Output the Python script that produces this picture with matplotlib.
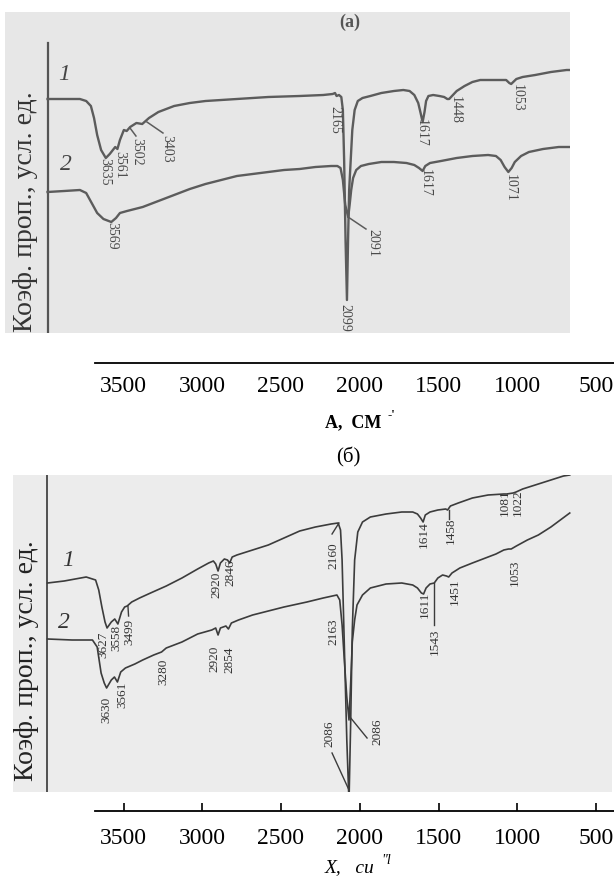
import matplotlib
matplotlib.use('Agg')
import matplotlib.pyplot as plt

W, H = 614, 881
SERIF = ['Liberation Serif', 'DejaVu Serif']

# ---------------- data: panel (а) ----------------
a1_wn = [4006, 3900, 3800, 3760, 3730, 3710, 3690, 3665, 3635, 3610, 3590, 3575, 3561, 3545, 3520,
         3502, 3480, 3440, 3403, 3360, 3300, 3200, 3100, 3000, 2800, 2600, 2400, 2250, 2190, 2175,
         2165, 2150, 2135, 2125, 2117, 2108, 2099, 2092, 2085, 2075, 2065, 2050, 2030, 2000, 1950,
         1880, 1800, 1740, 1700, 1670, 1645, 1630, 1617, 1605, 1595, 1580, 1550, 1510, 1480, 1460,
         1448, 1430, 1400, 1350, 1300, 1250, 1180, 1120, 1085, 1065, 1053, 1040, 1020, 980, 900,
         800, 700, 680]
a1_val = [234, 234, 234, 232, 227, 215, 198, 183, 175, 179, 183, 186, 184, 193, 203,
          202, 206, 210, 209, 215, 221, 227, 230, 232, 234, 236, 237, 238, 239, 240,
          237, 238, 236, 223, 173, 93, 33, 93, 143, 173, 203, 223, 232, 235, 237,
          240, 242, 243, 242, 238, 230, 220, 211, 221, 232, 237, 238, 237, 236, 234,
          234, 237, 242, 247, 251, 253, 253, 253, 253, 250, 249, 251, 254, 256, 258,
          261, 263, 263]

a2_wn = [4006, 3900, 3800, 3760, 3725, 3690, 3650, 3600, 3570, 3545, 3500, 3400, 3300, 3200, 3100,
         3000, 2900, 2800, 2700, 2600, 2500, 2400, 2300, 2200, 2160, 2140, 2125, 2110, 2091, 2082,
         2072, 2060, 2040, 2010, 1960, 1880, 1800, 1720, 1670, 1640, 1617, 1600, 1570, 1500, 1400,
         1300, 1200, 1150, 1120, 1095, 1071, 1050, 1030, 990, 940, 850, 750, 680]
a2_val = [141, 142, 143, 140, 130, 120, 114, 111, 115, 120, 122, 126, 132, 138, 144,
          149, 153, 157, 159, 161, 163, 164, 166, 167, 167, 165, 153, 128, 116, 128,
          143, 155, 163, 167, 169, 171, 171, 170, 168, 165, 162, 167, 170, 172, 175,
          177, 178, 177, 173, 166, 161, 165, 171, 177, 181, 184, 186, 186]

a_labels = [("3635", 3640, 161), ("3561", 3545, 168), ("3502", 3436, 181), ("3403", 3245, 184),
            ("2165", 2175, 213), ("2099", 2111, 15), ("1617", 1625, 200), ("1448", 1411, 223),
            ("1053", 1016, 235), ("3569", 3596, 97), ("2091", 1933, 90), ("1617", 1602, 150),
            ("1071", 1061, 145)]
a_leaders = [((3481, 205), (3443, 197)), ((3373, 211), (3271, 200)), ((2092, 116), (1978, 104))]

# ---------------- data: panel (б) ----------------
b1_wn = [4006, 3900, 3760, 3700, 3680, 3660, 3640, 3627, 3600, 3578, 3558, 3535, 3515, 3499, 3470,
         3420, 3350, 3250, 3150, 3050, 2980, 2950, 2935, 2920, 2905, 2880, 2860, 2846, 2830, 2800,
         2700, 2600, 2500, 2400, 2300, 2200, 2155, 2140, 2130, 2115, 2100, 2086, 2075, 2065, 2050,
         2030, 2000, 1950, 1850, 1750, 1680, 1650, 1630, 1614, 1600, 1570, 1520, 1470, 1458, 1440,
         1390, 1300, 1200, 1100, 1081, 1040, 1022, 980, 900, 800, 720, 680]
b1_val = [209, 211, 215, 212, 202, 185, 170, 164, 170, 173, 168, 180, 185, 186, 190,
          194, 199, 206, 214, 223, 229, 231, 228, 221, 229, 233, 232, 229, 235, 237,
          242, 247, 254, 261, 265, 268, 269, 262, 232, 142, 52, -10, 72, 162, 232,
          260, 270, 275, 278, 280, 280, 278, 274, 270, 277, 280, 282, 283, 282, 286,
          289, 294, 297, 298, 298, 299, 300, 303, 307, 312, 316, 317]

b2_wn = [4006, 3850, 3720, 3690, 3665, 3645, 3630, 3600, 3580, 3561, 3540, 3510, 3450, 3400, 3330,
         3280, 3250, 3150, 3050, 2960, 2935, 2920, 2905, 2870, 2854, 2835, 2790, 2700, 2600, 2500,
         2354, 2250, 2163, 2145, 2130, 2115, 2100, 2086, 2075, 2065, 2050, 2035, 2000, 1950, 1850,
         1750, 1680, 1650, 1625, 1611, 1595, 1570, 1543, 1520, 1490, 1465, 1451, 1430, 1380, 1300,
         1200, 1150, 1100, 1070, 1053, 1020, 950, 880, 800, 740, 680]
b2_val = [153, 152, 152, 145, 119, 109, 104, 112, 115, 110, 120, 124, 128, 132, 137,
          140, 144, 150, 158, 162, 164, 157, 164, 166, 163, 169, 172, 177, 181, 185,
          190, 194, 197, 192, 167, 130, 95, 72, 110, 150, 172, 187, 197, 204, 208,
          209, 207, 204, 199, 198, 204, 208, 209, 214, 217, 216, 215, 219, 224, 229,
          235, 238, 242, 243, 243, 246, 252, 257, 265, 272, 279]

b_labels = [("3627", 3653, 147), ("3558", 3570, 154), ("3499", 3487, 160), ("2920", 2933, 207),
            ("2846", 2844, 219), ("2160", 2182, 236), ("1614", 1608, 257), ("1458", 1440, 261),
            ("1081", 1096, 289), ("1022", 1012, 289), ("2086", 1908, 60), ("2086", 2213, 58),
            ("3630", 3632, 82), ("3561", 3532, 97), ("3280", 3271, 120), ("2920", 2940, 133),
            ("2854", 2850, 132), ("2163", 2182, 160), ("1611", 1602, 187), ("1543", 1538, 150),
            ("1451", 1411, 200), ("1053", 1029, 219)]
b_leaders = [((3494, 186), (3490, 176)), ((2150, 269), (2194, 258)), ((1449, 282), (1449, 273)),
             ((2080, 75), (1971, 54)), ((2086, 2), (2194, 39)), ((1545, 209), (1545, 167))]

axis_ticks = [3500, 3000, 2500, 2000, 1500, 1000, 500]
axis_ticklabels = ["3500", "3000", "2500", "2000", "1500", "1000", "500"]
top_marked_ticks = [1500, 1000, 500]


# ---------------- layout helpers ----------------
def rect(x0, y0, x1, y1):
    return [x0 / W, 1 - y1 / H, (x1 - x0) / W, (y1 - y0) / H]


def spec_wn(x):
    # pixel -> wavenumber for the spectra panels
    return 3500 - (x - 127) / 0.157


def axis_wn(x):
    # pixel -> wavenumber for the separate scale bars
    return 1500 - (x - 438.5) / 0.1575


fig = plt.figure(figsize=(W / 100, H / 100), dpi=100)
fig.patch.set_facecolor('white')


def panel(x0, y0, x1, y1, ymax, face):
    ax = fig.add_axes(rect(x0, y0, x1, y1))
    ax.set_facecolor(face)
    ax.set_xlim(spec_wn(x0), spec_wn(x1))
    ax.set_ylim(0, ymax)
    for s in ax.spines.values():
        s.set_visible(False)
    ax.set_xticks([])
    ax.set_yticks([])
    return ax


# ---------------- panel (а) ----------------
axa = panel(5, 12, 570, 333, 321, '#e7e7e7')
axa.axvline(spec_wn(47.5), ymin=0, ymax=(333 - 43) / 321, color='#555555', lw=1.6)
ca = '#5c5c5c'
axa.plot(a1_wn, a1_val, color=ca, lw=1.7, solid_joinstyle='round')
axa.plot(a2_wn, a2_val, color=ca, lw=1.7, solid_joinstyle='round')
for s, w, v in a_labels:
    axa.text(w, v, s, rotation=270, ha='center', va='center', fontsize=10,
             family=SERIF, color='#4a4a4a', clip_on=True)
for (p, q) in a_leaders:
    axa.plot([p[0], q[0]], [p[1], q[1]], color=ca, lw=1.1)
axa.text(spec_wn(64), 333 - 75, "1", fontsize=17, style='italic', family=SERIF,
         color='#444444', ha='center', va='center')
axa.text(spec_wn(66), 333 - 165, "2", fontsize=17, style='italic', family=SERIF,
         color='#444444', ha='center', va='center')
axa.text(spec_wn(350), 333 - 22, "(а)", fontsize=13, fontweight='bold', family=SERIF,
         color='#555555', ha='center', va='center')

# ---------------- panel (б) ----------------
axb = panel(13, 475, 612, 792, 317, '#ececec')
axb.axvline(spec_wn(47), color='#444444', lw=1.3)
cb = '#3c3c3c'
axb.plot(b1_wn, b1_val, color=cb, lw=1.2, solid_joinstyle='round')
axb.plot(b2_wn, b2_val, color=cb, lw=1.2, solid_joinstyle='round')
for s, w, v in b_labels:
    axb.text(w, v, s, rotation=90, ha='center', va='center', fontsize=9.5,
             family=SERIF, color='#333333', clip_on=True)
for (p, q) in b_leaders:
    axb.plot([p[0], q[0]], [p[1], q[1]], color=cb, lw=1.0)
axb.text(spec_wn(68), 792 - 560, "1", fontsize=17, style='italic', family=SERIF,
         color='#333333', ha='center', va='center')
axb.text(spec_wn(64), 792 - 623, "2", fontsize=17, style='italic', family=SERIF,
         color='#333333', ha='center', va='center')

# y labels
fig.text(26 / W, 1 - 212 / H, "Коэф. проп., усл. ед.", rotation=90, ha='center', va='center',
         fontsize=20, family=SERIF, color='#333333')
fig.text(27 / W, 1 - 661 / H, "Коэф. проп., усл. ед.", rotation=90, ha='center', va='center',
         fontsize=20, family=SERIF, color='#222222')


# ---------------- scale bars ----------------
def scale_bar(y, marked, pad):
    ax = fig.add_axes(rect(95, y - 30, 614, y))
    ax.set_facecolor('none')
    ax.set_xlim(axis_wn(95), axis_wn(614))
    ax.set_ylim(0, 1)
    for k in ('top', 'left', 'right'):
        ax.spines[k].set_visible(False)
    ax.spines['bottom'].set_linewidth(1.3)
    ax.set_yticks([])
    ax.set_xticks(axis_ticks)
    ax.set_xticklabels(axis_ticklabels, fontsize=17, family=SERIF)
    if marked is None:
        ax.tick_params(axis='x', which='major', direction='in', length=6, width=1.2, pad=pad)
    else:
        ax.tick_params(axis='x', which='major', length=0, pad=pad)
        ax.set_xticks(marked, minor=True)
        ax.tick_params(axis='x', which='minor', direction='in', length=6, width=1.2)
    return ax


scale_bar(363, top_marked_ticks, 9)
scale_bar(811, None, 12)

# axis captions
fig.text(353 / W, 1 - 423 / H, "А,  СМ", ha='center', va='center', fontsize=13,
         fontweight='bold', family=SERIF)
fig.text(388 / W, 1 - 414 / H, "-'", ha='left', va='center', fontsize=9,
         fontweight='bold', family=SERIF)
fig.text(348 / W, 1 - 457 / H, "(б)", ha='center', va='center', fontsize=15, family=SERIF)
fig.text(350 / W, 1 - 868 / H, "X,   cu", ha='center', va='center', fontsize=14,
         style='italic', family=SERIF)
fig.text(381 / W, 1 - 860 / H, "\"l", ha='left', va='center', fontsize=10,
         style='italic', family=SERIF)

fig.savefig('out.png', dpi=100)
